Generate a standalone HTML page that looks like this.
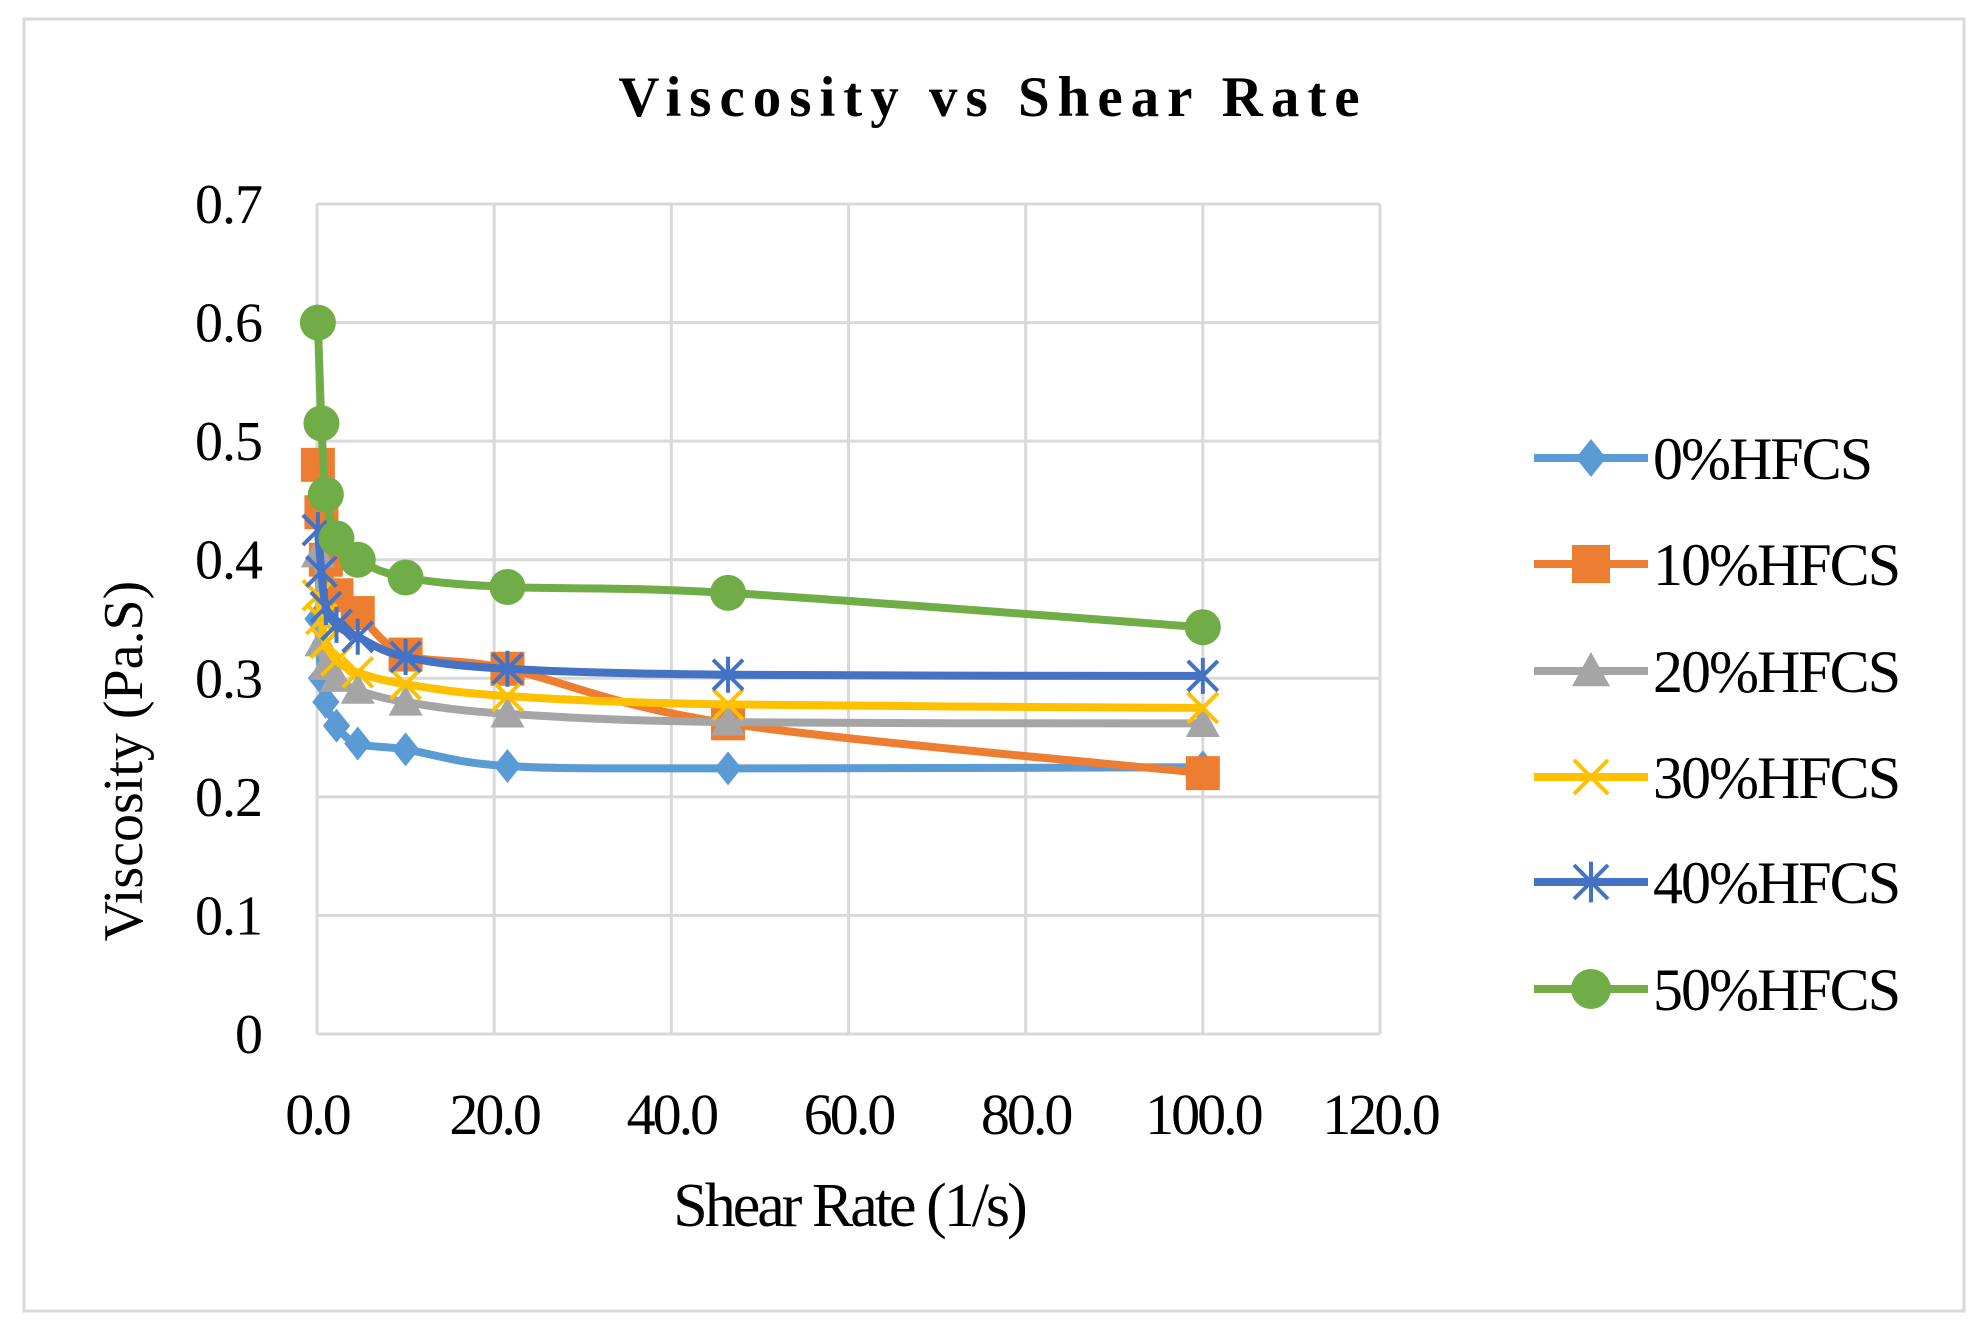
<!DOCTYPE html>
<html><head><meta charset="utf-8"><style>
body{margin:0;background:#fff;}
svg{display:block;font-family:"Liberation Serif",serif;}
</style></head><body>
<svg id="chart" width="1986" height="1331" viewBox="0 0 1986 1331" xmlns="http://www.w3.org/2000/svg">
<rect x="24" y="19" width="1940" height="1292" fill="#fff" stroke="#d9d9d9" stroke-width="3"/>
<text x="993" y="116" text-anchor="middle" font-size="57" font-weight="bold" letter-spacing="8">Viscosity vs Shear Rate</text>
<g id="grid"></g><g id="series"></g><g id="legend"></g>
<text x="849" y="1226" text-anchor="middle" font-size="62" letter-spacing="-3">Shear Rate (1/s)</text>
<text transform="translate(142,761) rotate(-90)" text-anchor="middle" font-size="56">Viscosity (Pa.S)</text>
</svg>
<script>
const xValues=[0.1,0.5,1,2.2,4.6,10,21.5,46.4,100];
const s0=[0.35,0.3,0.28,0.26,0.245,0.24,0.226,0.224,0.225];
const s10=[0.48,0.44,0.4,0.37,0.355,0.32,0.308,0.262,0.22];
const s20=[0.405,0.33,0.31,0.3,0.29,0.28,0.27,0.263,0.262];
const s30=[0.37,0.35,0.33,0.315,0.305,0.295,0.285,0.278,0.275];
const s40=[0.425,0.39,0.36,0.345,0.335,0.318,0.308,0.303,0.302];
const s50=[0.6,0.515,0.455,0.418,0.4,0.385,0.377,0.372,0.343];
const seriesNames=["0%HFCS","10%HFCS","20%HFCS","30%HFCS","40%HFCS","50%HFCS"];
const xTicks=["0.0","20.0","40.0","60.0","80.0","100.0","120.0"];
const yTicks=["0","0.1","0.2","0.3","0.4","0.5","0.6","0.7"];
const NS="http://www.w3.org/2000/svg";
const L=317,R=1380,T=204,B=1034;
const xs=v=>L+(v/120)*(R-L);
const ys=v=>B-(v/0.7)*(B-T);
function mk(tag,attrs,parent){const e=document.createElementNS(NS,tag);for(const k in attrs)e.setAttribute(k,attrs[k]);parent.appendChild(e);return e;}
const grid=document.getElementById('grid');
xTicks.forEach((t,i)=>{const v=parseFloat(t);
 const l=mk('line',{x1:xs(v),x2:xs(v),y1:T,y2:B,stroke:'#d9d9d9','stroke-width':3},grid);
 
 
 const tx=mk('text',{x:xs(v),y:1134,'text-anchor':'middle','font-size':58,'letter-spacing':-3},grid);tx.textContent=t;
 
 
});
yTicks.forEach(t=>{const v=parseFloat(t);
 const l=mk('line',{x1:L,x2:R,y1:ys(v),y2:ys(v),stroke:'#d9d9d9','stroke-width':3},grid);
 
 
 const tx=mk('text',{x:262,y:ys(v)+19,'text-anchor':'end','font-size':56,'letter-spacing':-1},grid);tx.textContent=t;
 
 
});
const colors=["#5b9bd5","#ed7d31","#a5a5a5","#ffc000","#4472c4","#70ad47"];
const data=[s0,s10,s20,s30,s40,s50];
function smooth(pts){let d=`M${pts[0][0]},${pts[0][1]}`;
 for(let i=0;i<pts.length-1;i++){const p0=pts[Math.max(i-1,0)],p1=pts[i],p2=pts[i+1],p3=pts[Math.min(i+2,pts.length-1)];const t=6;
  d+=` C${p1[0]+(p2[0]-p0[0])/t},${p1[1]+(p2[1]-p0[1])/t} ${p2[0]-(p3[0]-p1[0])/t},${p2[1]-(p3[1]-p1[1])/t} ${p2[0]},${p2[1]}`;}
 return d;}
function marker(k,x,y,c,g,s){
 let e;
 if(k==0)e=mk('polygon',{points:`${x},${y-s} ${x+s*0.8},${y} ${x},${y+s} ${x-s*0.8},${y}`,fill:c},g);
 else if(k==1)e=mk('rect',{x:x-s,y:y-s,width:2*s,height:2*s,fill:c},g);
 else if(k==2)e=mk('polygon',{points:`${x},${y-s} ${x+s},${y+s*0.8} ${x-s},${y+s*0.8}`,fill:c},g);
 else if(k==3)e=mk('path',{d:`M${x-s},${y-s}L${x+s},${y+s}M${x-s},${y+s}L${x+s},${y-s}`,stroke:c,'stroke-width':4,fill:'none'},g);
 else if(k==4)e=mk('path',{d:`M${x-s},${y-s}L${x+s},${y+s}M${x-s},${y+s}L${x+s},${y-s}M${x},${y-s*1.2}L${x},${y+s*1.2}`,stroke:c,'stroke-width':4,fill:'none'},g);
 else e=mk('circle',{cx:x,cy:y,r:s,fill:c},g);
 return e;}
const sg=document.getElementById('series');
const sizes=[17,17,17,15,15,18];
data.forEach((arr,k)=>{
 const g=mk('g',{},sg);
 
 
 const pts=arr.map((v,i)=>[xs(xValues[i]),ys(v)]);
 const p=mk('path',{d:smooth(pts),stroke:colors[k],'stroke-width':8,fill:'none','stroke-linejoin':'round'},g);
 
 
 pts.forEach(q=>{const m=marker(k,q[0],q[1],colors[k],g,sizes[k]);
  
  });
});
const lg=document.getElementById('legend');
const ly=[458,564,671,777,882,989];
seriesNames.forEach((n,k)=>{
 const g=mk('g',{},lg);
 
 
 mk('line',{x1:1534,x2:1648,y1:ly[k],y2:ly[k],stroke:colors[k],'stroke-width':8},g);
 marker(k,1591,ly[k],colors[k],g,sizes[k]+2);
 const t=mk('text',{x:1653,y:ly[k]+21,'font-size':60,'letter-spacing':-2},g);t.textContent=n;
});
</script>
</body></html>
